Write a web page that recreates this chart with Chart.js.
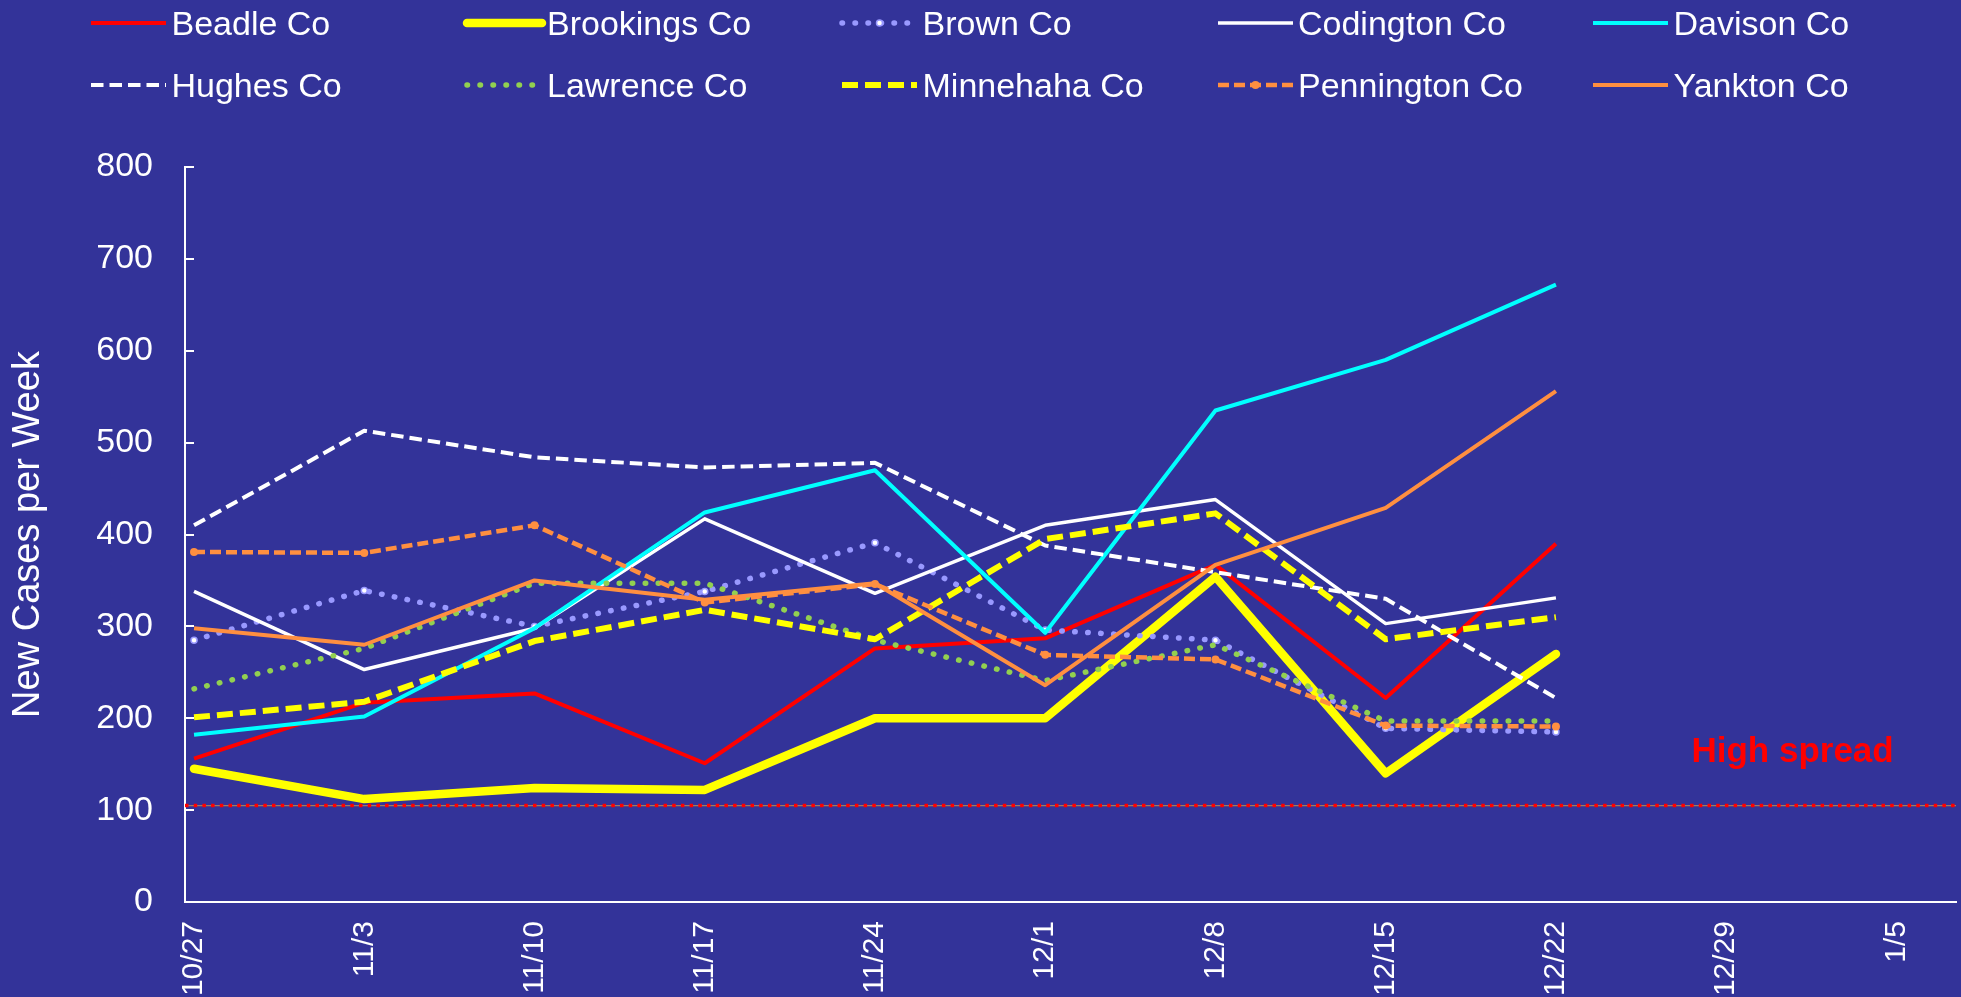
<!DOCTYPE html>
<html>
<head>
<meta charset="utf-8">
<script src="https://cdn.jsdelivr.net/npm/chart.js@4.4.1/dist/chart.umd.min.js"></script>
<style>
html,body{margin:0;padding:0;background:#333399;overflow:hidden;}
#wrap{position:relative;width:1961px;height:997px;background:#333399;}
#c{position:absolute;left:0;top:0;}
.lg{position:absolute;top:0;height:110px;width:370px;}
.lg svg{position:absolute;overflow:visible;}
.lg span{position:absolute;white-space:nowrap;font-family:'Liberation Sans',Arial,sans-serif;font-size:34px;line-height:34px;color:#ffffff;}
</style>
</head>
<body>
<div id="wrap">
  <canvas id="c" width="1961" height="997"></canvas>
  <div id="legend"></div>
</div>
<script>
// ---- data ----
const weeks = ['10/27','11/3','11/10','11/17','11/24','12/1','12/8','12/15','12/22','12/29','1/5'];
const seriesNames = ['Beadle Co','Brookings Co','Brown Co','Codington Co','Davison Co',
                     'Hughes Co','Lawrence Co','Minnehaha Co','Pennington Co','Yankton Co'];
const beadle     = [156, 217, 227, 151, 276, 287, 367, 222, 390];
const brookings  = [145, 112, 124, 122, 200, 200, 354, 140, 270];
const brown      = [285, 339, 300, 338, 391, 296, 285, 189, 185];
const codington  = [338, 253, 298, 417, 336, 410, 438, 303, 331];
const davison    = [182, 202, 298, 424, 470, 293, 535, 590, 672];
const hughes     = [410, 513, 484, 473, 478, 388, 359, 330, 222];
const lawrence   = [232, 276, 347, 347, 285, 241, 280, 197, 197];
const minnehaha  = [201, 218, 284, 318, 286, 395, 423, 286, 310];
const pennington = [381, 380, 410, 326, 346, 269, 264, 192, 191];
const yankton    = [298, 280, 350, 329, 347, 236, 367, 429, 556];
const yTicks = [0, 100, 200, 300, 400, 500, 600, 700, 800];
const HIGH_SPREAD = 105;
const highSpreadLabel = 'High spread';
const yTitle = 'New Cases per Week';

const seriesValues = [beadle, brookings, brown, codington, davison, hughes, lawrence, minnehaha, pennington, yankton];

// ---- styles ----
const ORANGE = '#FF8F40';
const styles = [
  {color:'#FF0000', width:4,   cap:'butt'},
  {color:'#FFFF00', width:8.5, cap:'round'},
  {color:'#9999FF', width:5.5, cap:'round', dash:[0.5,12.5], pr:3, pbg:'#FFFFFF', pbw:1.5},
  {color:'#FFFFFF', width:3.5, cap:'butt'},
  {color:'#00FFFF', width:4,   cap:'butt'},
  {color:'#FFFFFF', width:4,   cap:'butt', dash:[12.5,6]},
  {color:'#92D050', width:5.5, cap:'round', dash:[0.5,12.5]},
  {color:'#FFFF00', width:6,   cap:'butt', dash:[16,7]},
  {color:ORANGE,    width:4.5, cap:'butt', dash:[11,5], pr:4, pbg:ORANGE, pbw:0},
  {color:ORANGE,    width:4,   cap:'butt'}
];
const FONT = "'Liberation Sans', Arial, sans-serif";
const X_MIN = -0.053, X_MAX = 10.35;

const datasets = seriesNames.map((name, i) => {
  const st = styles[i];
  return {
    label: name,
    data: seriesValues[i].map((v, k) => ({x: k, y: v})),
    borderColor: st.color,
    backgroundColor: st.color,
    borderWidth: st.width,
    borderDash: st.dash || [],
    borderCapStyle: st.cap,
    borderJoinStyle: 'round',
    pointRadius: st.pr || 0,
    pointHoverRadius: st.pr || 0,
    pointBackgroundColor: st.pbg || st.color,
    pointBorderColor: st.color,
    pointBorderWidth: st.pbw || 0,
    tension: 0,
    fill: false,
    order: seriesNames.length - i
  };
});

const highSpreadPlugin = {
  id: 'highSpread',
  beforeDatasetsDraw(chart) {
    const {ctx, chartArea, scales} = chart;
    const y = scales.y.getPixelForValue(HIGH_SPREAD);
    ctx.save();
    ctx.beginPath();
    ctx.moveTo(chartArea.left, y); ctx.lineTo(chartArea.right, y);
    ctx.strokeStyle = '#A07A60'; ctx.lineWidth = 1.3; ctx.stroke();
    ctx.beginPath();
    ctx.setLineDash([3.5, 5.2]);
    ctx.moveTo(chartArea.left, y); ctx.lineTo(chartArea.right, y);
    ctx.strokeStyle = '#FF0000'; ctx.lineWidth = 3.5; ctx.stroke();
    ctx.restore();
  },
  afterDatasetsDraw(chart) {
    const {ctx, scales} = chart;
    ctx.save();
    ctx.font = 'bold 35px ' + FONT;
    ctx.fillStyle = '#FF0000';
    ctx.textAlign = 'left';
    ctx.textBaseline = 'alphabetic';
    ctx.fillText(highSpreadLabel, scales.x.getPixelForValue(8.796), scales.y.getPixelForValue(152.8));
    ctx.restore();
  }
};

new Chart(document.getElementById('c'), {
  type: 'line',
  data: {datasets},
  options: {
    responsive: false,
    animation: false,
    devicePixelRatio: 1,
    events: [],
    layout: {padding: {top: 167, right: 5, left: 0, bottom: 0}},
    plugins: {legend: {display: false}, tooltip: {enabled: false}},
    scales: {
      x: {
        type: 'linear', min: X_MIN, max: X_MAX,
        afterFit: s => { s.height = 95; },
        grid: {display: false, drawTicks: false},
        border: {display: true, color: '#FFFFFF', width: 2},
        ticks: {
          stepSize: 1, includeBounds: false, autoSkip: false,
          minRotation: 90, maxRotation: 90, padding: 19,
          color: '#FFFFFF', font: {family: FONT, size: 30},
          callback: v => (weeks[v] !== undefined ? weeks[v] : '')
        }
      },
      y: {
        type: 'linear', min: yTicks[0], max: yTicks[yTicks.length - 1],
        afterFit: s => { s.width = 185; },
        grid: {display: true, drawOnChartArea: false, drawTicks: true, tickLength: -9, color: '#FFFFFF', lineWidth: 2},
        border: {display: true, color: '#FFFFFF', width: 2},
        ticks: {stepSize: 100, padding: 41, color: '#FFFFFF', font: {family: FONT, size: 34}},
        title: {display: true, text: yTitle, color: '#FFFFFF',
                font: {family: FONT, size: 38, lineHeight: 1}, padding: {top: 10, bottom: 0}}
      }
    }
  },
  plugins: [highSpreadPlugin]
});

// ---- HTML legend ----
const LEG_X0 = 91, LEG_DX = 375.5, LEG_ROW_Y = [23.3, 85], LEG_BASE = [35, 96.7];
const legendEl = document.getElementById('legend');
seriesNames.forEach((name, i) => {
  const st = styles[i];
  const col = i % 5, row = Math.floor(i / 5);
  const left = LEG_X0 + col * LEG_DX;
  const cy = LEG_ROW_Y[row];
  const dash = st.dash ? st.dash.join(' ') : 'none';
  let marker = '';
  if (st.pr) {
    marker = `<circle cx="43.5" cy="12" r="${st.pr}" fill="${st.pbg}" stroke="${st.color}" stroke-width="${st.pbw || 0}"/>`;
  }
  const item = document.createElement('div');
  item.className = 'lg';
  item.style.left = left + 'px';
  item.innerHTML =
    `<svg width="90" height="24" style="left:-6px;top:${cy - 12}px">` +
    `<line x1="6" y1="12" x2="81" y2="12" stroke="${st.color}" stroke-width="${st.width}" ` +
    `stroke-dasharray="${dash}" stroke-linecap="${st.cap}"/>${marker}</svg>` +
    `<span style="left:80.5px;top:${(LEG_BASE[row] - 28.8).toFixed(1)}px">${name}</span>`;
  legendEl.appendChild(item);
});
</script>
</body>
</html>
